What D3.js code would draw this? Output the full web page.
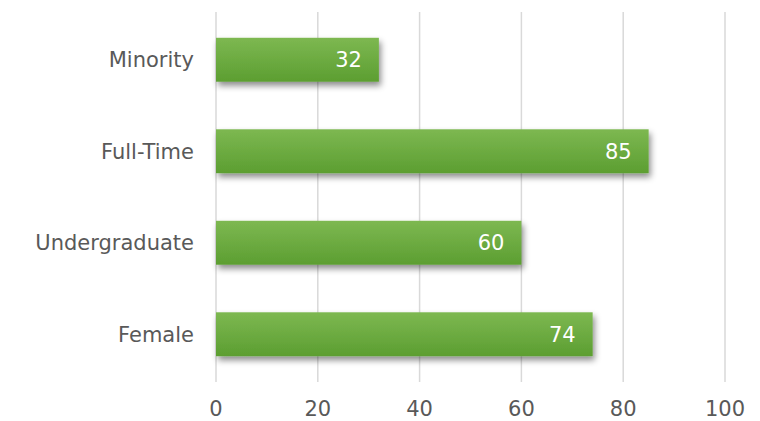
<!DOCTYPE html>
<html>
<head>
<meta charset="utf-8">
<script src="https://cdn.jsdelivr.net/npm/d3@7"></script>
<style>
  body { margin: 0; background: #fff; }
  text { font-family: "DejaVu Sans", "Lato", sans-serif; }
</style>
</head>
<body>
<div id="chart"></div>
<script>
const categories = ['Minority', 'Full-Time', 'Undergraduate', 'Female'];
const values = [32, 85, 60, 74];
const xTicks = [0, 20, 40, 60, 80, 100];

const WIDTH = 760, HEIGHT = 421;
const MARGINS = {top: 12, right: 35, bottom: 39, left: 216};

const x = d3.scaleLinear()
    .domain([0, 100])
    .range([MARGINS.left, WIDTH - MARGINS.right]);

const y = d3.scaleBand()
    .domain(categories)
    .range([MARGINS.top + 2, HEIGHT - MARGINS.bottom - 2])
    .paddingInner(0.52)
    .paddingOuter(0.26);

const svg = d3.select('#chart')
    .append('svg')
    .attr('width', WIDTH)
    .attr('height', HEIGHT);

const defs = svg.append('defs');
const grad = defs.append('linearGradient')
    .attr('id', 'barGrad')
    .attr('x1', 0).attr('y1', 0).attr('x2', 0).attr('y2', 1);
grad.append('stop').attr('offset', '0%').attr('stop-color', '#7db851');
grad.append('stop').attr('offset', '100%').attr('stop-color', '#5c9e31');

const shadow = defs.append('filter')
    .attr('id', 'shadow')
    .attr('x', '-5%').attr('y', '-20%')
    .attr('width', '115%').attr('height', '160%');
shadow.append('feDropShadow')
    .attr('dx', 2).attr('dy', 4)
    .attr('stdDeviation', 3)
    .attr('flood-color', '#000')
    .attr('flood-opacity', 0.45);

// vertical gridlines
svg.append('g')
    .selectAll('line')
    .data(xTicks)
    .enter()
    .append('line')
    .attr('x1', d => x(d)).attr('x2', d => x(d))
    .attr('y1', MARGINS.top)
    .attr('y2', HEIGHT - MARGINS.bottom)
    .attr('stroke', '#d9d9d9')
    .attr('stroke-width', 1.5);

// x tick labels
svg.append('g')
    .selectAll('text')
    .data(xTicks)
    .enter()
    .append('text')
    .attr('x', d => x(d))
    .attr('y', HEIGHT - 5)
    .attr('text-anchor', 'middle')
    .attr('fill', '#595959')
    .style('font-size', '21px')
    .text(d => d);

// category labels
svg.append('g')
    .selectAll('text')
    .data(categories)
    .enter()
    .append('text')
    .attr('x', MARGINS.left - 22)
    .attr('y', d => y(d) + y.bandwidth() / 2)
    .attr('dy', '0.36em')
    .attr('text-anchor', 'end')
    .attr('fill', '#595959')
    .style('font-size', '21px')
    .text(d => d);

const data = categories.map((c, i) => ({cat: c, val: values[i]}));

svg.append('g')
    .selectAll('.bar')
    .data(data)
    .enter()
    .append('rect')
    .classed('bar', true)
    .attr('x', x(0))
    .attr('y', d => y(d.cat))
    .attr('width', d => x(d.val) - x(0))
    .attr('height', y.bandwidth())
    .attr('fill', 'url(#barGrad)')
    .attr('filter', 'url(#shadow)');

svg.append('g')
    .selectAll('.label')
    .data(data)
    .enter()
    .append('text')
    .classed('label', true)
    .attr('x', d => x(d.val) - 17)
    .attr('y', d => y(d.cat) + y.bandwidth() / 2)
    .attr('dy', '0.36em')
    .attr('text-anchor', 'end')
    .attr('fill', '#fff')
    .style('font-size', '21px')
    .text(d => d.val);
</script>
</body>
</html>
